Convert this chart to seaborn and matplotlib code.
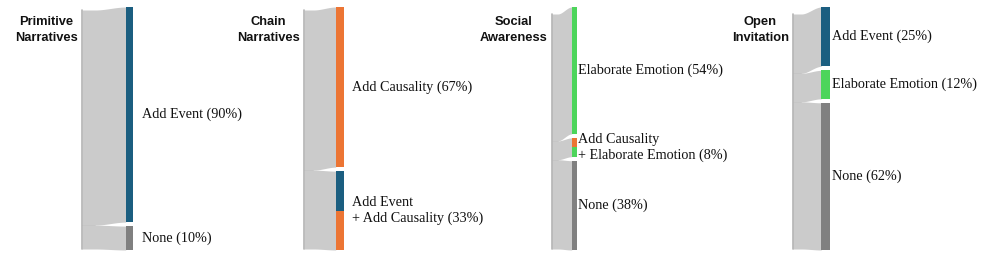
import numpy as np
import seaborn as sns
from matplotlib import pyplot as plt

# -------------------------------------------
# data

sources = ['Primitive\nNarratives', 'Chain\nNarratives', 'Social\nAwareness', 'Open\nInvitation']
targets = [
    ['Add Event', 'None'],
    ['Add Causality', 'Add Event\n+ Add Causality'],
    ['Elaborate Emotion', 'Add Causality\n+ Elaborate Emotion', 'None'],
    ['Add Event', 'Elaborate Emotion', 'None'],
]
shares = [
    [90, 10],
    [67, 33],
    [54, 8, 38],
    [25, 12, 62],
]

# -------------------------------------------
# style / layout (pixel units, figure is 996 x 259)

palette = {
    'Add Event': '#1b5e80',
    'Add Causality': '#ec7534',
    'Elaborate Emotion': '#4dd55b',
    'None': '#808080',
}
link_color = '#cbcbcb'
edge_color = '#b4b4b4'

src_left = [82.0, 304.0, 551.7, 792.7]
tgt_left = [125.7, 335.7, 571.7, 821.3]
tgt_width = [7.6, 8.3, 5.6, 8.7]
label_pad = [8.5, 8.0, 0.5, 1.5]
top, bottom, gap = 7.0, 250.0, 4.0
src_bottom = 249.0
curve_start = 0.3

sns.set_theme(style='white')
plt.rcParams['font.family'] = ['Liberation Serif', 'DejaVu Serif']

fig = plt.figure(figsize=(9.96, 2.59), dpi=100)
ax = fig.add_axes([0, 0, 1, 1])
ax.set_xlim(0, 996)
ax.set_ylim(259, 0)
ax.axis('off')


def link_curve(x, x0, x1, y0, y1):
    xc = x0 + curve_start * (x1 - x0)
    u = np.clip((x - xc) / (x1 - xc), 0, 1)
    s = 3 * u ** 2 - 2 * u ** 3
    return y0 + (y1 - y0) * s


for k, src in enumerate(sources):
    vals = np.array(shares[k], dtype=float)
    n = len(vals)
    scale = (bottom - top - gap * (n - 1)) / vals.sum()
    heights = vals * scale

    # target stack, top to bottom with gaps
    t0 = top + np.concatenate([[0], np.cumsum(heights[:-1] + gap)])
    t1 = t0 + heights
    # source stack, no gaps, aligned at the bottom
    s_top = src_bottom - heights.sum()
    s0 = s_top + np.concatenate([[0], np.cumsum(heights[:-1])])
    s1 = s0 + heights

    x = np.linspace(src_left[k], tgt_left[k], 200)
    for i in range(n):
        y_up = link_curve(x, src_left[k], tgt_left[k], s0[i], t0[i])
        y_lo = link_curve(x, src_left[k], tgt_left[k], s1[i], t1[i])
        ax.fill_between(x, y_up, y_lo, color=link_color, lw=0)
        if i > 0:
            ax.plot(x[:60], y_up[:60], color='#c0c0c0', lw=0.5)

    ax.plot([src_left[k], src_left[k]], [s_top, src_bottom], color=edge_color, lw=1.2)

    # target bars, split evenly for combined actions
    for i, name in enumerate(targets[k]):
        parts = name.split('\n+ ')
        seg = heights[i] / len(parts)
        for j, p in enumerate(parts):
            ax.bar(tgt_left[k], seg, bottom=t0[i] + j * seg, width=tgt_width[k],
                   align='edge', color=palette[p], lw=0)
        ax.text(tgt_left[k] + tgt_width[k] + label_pad[k], (t0[i] + t1[i]) / 2,
                f'{name} ({shares[k][i]}%)', ha='left', va='center',
                fontsize=10.2, color='#111111', linespacing=1.2)

    ax.text(src_left[k] - 4, 30, src, ha='right', va='center', multialignment='center',
            fontsize=9.3, fontweight='bold', family=['Liberation Sans', 'DejaVu Sans'],
            color='#111111', linespacing=1.45)

fig.savefig('out.png', dpi=100)
